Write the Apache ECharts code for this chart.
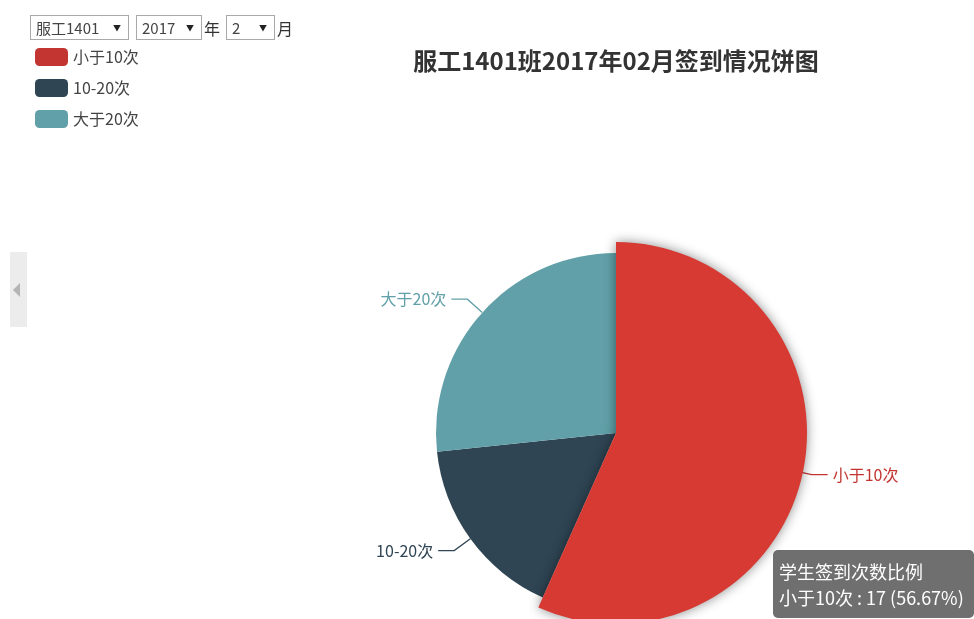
<!DOCTYPE html>
<html>
<head>
<meta charset="utf-8">
<title>服工1401班签到情况</title>
<script src="https://cdn.jsdelivr.net/npm/echarts@6/dist/echarts.min.js"></script>
<style>
  html, body { margin: 0; padding: 0; background: #fff; overflow: hidden; }
  body { width: 974px; height: 619px; position: relative; font-family: "Noto Sans CJK SC", "Noto Sans", sans-serif; }
  #chart { position: absolute; left: 0; top: 0; width: 974px; height: 619px; }
  .toolbar { position: absolute; left: 30px; top: 15px; z-index: 5; display: flex; align-items: center; font-size: 15px; color: #333; }
  .sel { box-sizing: border-box; height: 25px; border: 1px solid #a9a9a9; background: #fff; display: flex; align-items: center; padding: 0 7px 0 5px; justify-content: space-between; color: #444; }
  .sel .arrow { font-size: 8px; color: #222; margin-left: 8px; }
  .unit { margin: 0 2px 0 2px; font-size: 16px; }
</style>
</head>
<body>
<div class="toolbar">
  <div class="sel" style="width:99px"><span>服工1401</span><span class="arrow">▼</span></div>
  <div class="sel" style="width:66px;margin-left:7px"><span>2017</span><span class="arrow">▼</span></div>
  <span class="unit">年</span>
  <div class="sel" style="width:49px;margin-left:4px"><span>2</span><span class="arrow">▼</span></div>
  <span class="unit">月</span>
</div>
<div id="chart"></div>
<script>
// Sign-in frequency buckets and student counts for class 服工1401, Feb 2017
const categories = ['小于10次', '10-20次', '大于20次'];
const studentCounts = [17, 5, 8];
const sliceColors = ['#c23531', '#2f4554', '#61a0a8'];
const titleText = '服工1401班2017年02月签到情况饼图';
const seriesName = '学生签到次数比例';

const totalCount = studentCounts.reduce((a, b) => a + b, 0);

const chart = echarts.init(document.getElementById('chart'), null, { renderer: 'canvas' });

const pieData = categories.map((name, i) => ({
  name: name,
  value: studentCounts[i],
  itemStyle: { color: sliceColors[i] },
  label: { color: sliceColors[i] },
  labelLine: { lineStyle: { color: sliceColors[i] } },
  emphasis: {
    itemStyle: { color: i === 0 ? '#d63a33' : sliceColors[i] },
    label: { color: sliceColors[i] }
  }
}));

chart.setOption({
  animation: false,
  color: sliceColors,
  title: {
    text: titleText,
    left: 616,
    top: 49,
    padding: 0,
    textAlign: 'center',
    textStyle: { fontSize: 24, fontWeight: 'bold', color: '#333', fontFamily: '"Noto Sans CJK SC", sans-serif' }
  },
  tooltip: {
    trigger: 'item',
    triggerOn: 'none',
    alwaysShowContent: true,
    formatter: function (p) {
      const pct = (p.value / totalCount * 100).toFixed(2);
      return p.seriesName + '<br/>' + p.name + ' : ' + p.value + ' (' + pct + '%)';
    },
    position: [773, 550],
    backgroundColor: 'rgba(50,50,50,0.7)',
    borderWidth: 0,
    padding: [8, 10, 8, 6],
    textStyle: { color: '#fff', fontSize: 18, lineHeight: 26, fontFamily: '"Noto Sans CJK SC", sans-serif' },
    extraCssText: 'box-shadow:none;border-radius:5px;line-height:26px;white-space:nowrap;'
  },
  legend: {
    orient: 'vertical',
    left: 35,
    top: 48,
    padding: 0,
    itemWidth: 33,
    itemHeight: 18,
    itemGap: 13,
    icon: 'roundRect',
    data: categories,
    textStyle: { fontSize: 16, color: '#444', fontFamily: '"Noto Sans CJK SC", sans-serif' }
  },
  graphic: [
    {
      type: 'rect',
      shape: { x: 10, y: 252, width: 17, height: 75 },
      style: { fill: '#ececec' },
      silent: true
    },
    {
      type: 'polygon',
      shape: { points: [[13, 290], [20, 283], [20, 297]] },
      style: { fill: '#b4b4b4' },
      silent: true
    }
  ],
  series: [
    {
      name: seriesName,
      type: 'pie',
      center: [616, 433],
      radius: 180,
      startAngle: 90,
      clockwise: true,
      avoidLabelOverlap: true,
      label: {
        show: true,
        position: 'outside',
        fontSize: 16,
        fontFamily: '"Noto Sans CJK SC", sans-serif'
      },
      labelLine: { show: true, length: 20, length2: 16, lineStyle: { width: 1.3 } },
      emphasis: {
        scale: true,
        scaleSize: 11,
        focus: 'none',
        itemStyle: { shadowBlur: 12, shadowOffsetX: 0, shadowColor: 'rgba(0,0,0,0.45)' },
        label: { show: true, fontSize: 16, fontWeight: 'normal' }
      },
      data: pieData
    }
  ]
});

chart.dispatchAction({ type: 'highlight', seriesIndex: 0, dataIndex: 0 });
chart.dispatchAction({ type: 'showTip', seriesIndex: 0, dataIndex: 0 });
</script>
</body>
</html>
